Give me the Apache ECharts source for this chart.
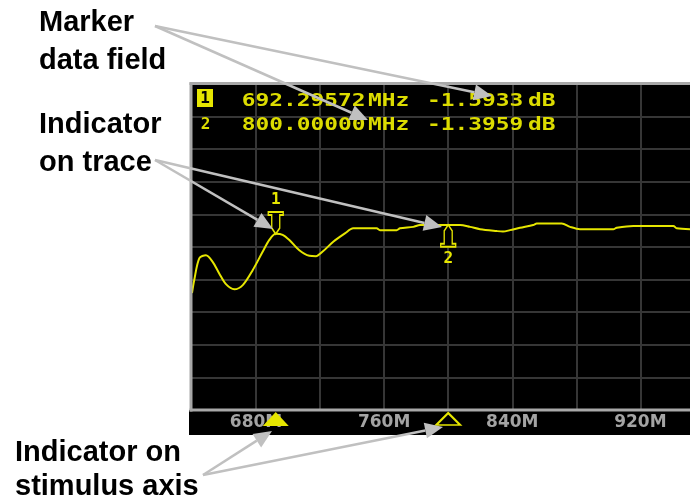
<!DOCTYPE html>
<html>
<head>
<meta charset="utf-8">
<script src="https://cdn.jsdelivr.net/npm/echarts@6/dist/echarts.min.js"></script>
<style>
  html, body { margin: 0; padding: 0; background: #fff; }
  #main { width: 690px; height: 502px; }
</style>
</head>
<body>
<div id="main"></div>
<script>
// trace: stimulus in MHz, response in dB
const freqMHz = [640.0, 641.4, 644.6, 648.7, 652.9, 657.0, 661.2, 666.4, 671.7, 677.9,
  684.2, 688.3, 692.3, 696.6, 700.8, 707.0, 713.3, 717.4, 721.6, 728.2,
  735.5, 740.7, 755.3, 757.4, 767.8, 769.9, 778.2, 782.4, 800.0, 807.4,
  813.6, 819.9, 830.3, 834.2, 838.6, 844.8, 853.1, 855.3, 870.9, 876.1,
  882.3, 903.1, 905.2, 915.6, 940.6, 942.7, 951.0];
const levelDb = [-2.86, -2.58, -2.11, -2.05, -2.19, -2.44, -2.67, -2.78, -2.69, -2.37,
  -1.97, -1.72, -1.59, -1.61, -1.72, -1.94, -2.06, -2.07, -1.97, -1.76,
  -1.58, -1.47, -1.47, -1.51, -1.51, -1.47, -1.44, -1.40, -1.40, -1.40,
  -1.44, -1.49, -1.53, -1.54, -1.51, -1.46, -1.40, -1.37, -1.37, -1.44,
  -1.49, -1.49, -1.46, -1.42, -1.42, -1.47, -1.49];

// markers
const markerIds = ['1', '2'];
const markerFreqMHz = [692.29572, 800.0];
const markerLevelDb = [-1.5933, -1.3959];

// stimulus axis
const freqMin = 640;
const freqMax = 951.0;
const freqStep = 40;
const tickLabels = [680, 760, 840, 920];

// response axis (hidden, 0.7 dB/div)
const dbMin = -5.372;
const dbMax = 1.628;

const YEL = '#e6e600';
const GRIDC = '#363636';
const FRAME = '#a8a8a8';

let chart = echarts.init(document.getElementById('main'));

// pin shapes for the trace markers
const pinDown = 'path://M0 0 H15 V3 H11.5 V16 L7.5 22 L3.5 16 V3 H0 Z';
const pinUp = 'path://M7.5 0 L11.5 6 V19 H15 V22 H0 V19 H3.5 V6 Z';

let tracePts = freqMHz.map((f, i) => [f, levelDb[i]]);

let markPts = [];
markerFreqMHz.forEach((f, i) => {
  let up = i > 0;
  markPts.push({
    coord: [f, markerLevelDb[i]],
    symbol: up ? pinUp : pinDown,
    symbolSize: [15, 22],
    symbolOffset: [0, up ? 11 : -11],
    itemStyle: { color: '#000', borderColor: YEL, borderWidth: 1.6 },
    label: {
      show: true,
      formatter: markerIds[i],
      position: up ? 'bottom' : 'top',
      distance: 3,
      color: YEL,
      fontFamily: 'DejaVu Sans Mono',
      fontWeight: 'bold',
      fontSize: 16
    }
  });
  // indicator on stimulus axis
  markPts.push({
    coord: [f, dbMin],
    symbol: 'triangle',
    symbolSize: i === 0 ? [26, 14] : [24, 12],
    symbolOffset: [0, 9],
    itemStyle: i === 0 ? { color: YEL } : { color: '#000', borderColor: YEL, borderWidth: 2 },
    label: { show: false }
  });
});

// marker data field text
let readout = [];
markerFreqMHz.forEach((f, i) => {
  let y = 101.7 + i * 23.5;
  let ts = { fontFamily: 'DejaVu Sans Mono', fontWeight: 'bold', fontSize: 18, fill: '#dcdc00', verticalAlign: 'middle', align: 'left' };
  if (i === 0) {
    readout.push({ type: 'rect', z: 5, shape: { x: 197, y: 89, width: 16, height: 18 }, style: { fill: YEL } });
    readout.push({ type: 'text', z: 6, x: 205, y: 98.5, style: Object.assign({}, ts, { text: markerIds[i], fill: '#000', fontSize: 16, align: 'center' }) });
  } else {
    readout.push({ type: 'text', z: 6, x: 205.5, y: y, style: Object.assign({}, ts, { text: markerIds[i], fontSize: 16, align: 'center' }) });
  }
  let parts = [
    [241.7, f.toFixed(5)],
    [368, 'MHz'],
    [427, markerLevelDb[i].toFixed(4)],
    [528, 'dB']
  ];
  parts.forEach(p => {
    readout.push({ type: 'text', z: 6, x: p[0], y: y, scaleX: 1.27, style: Object.assign({}, ts, { text: p[1] }) });
  });
});

// display frame: left, top and bottom edges only (right edge is off screen)
let frame = [
  { type: 'line', z: 5, shape: { x1: 191, y1: 82.5, x2: 191, y2: 411.5 }, style: { stroke: FRAME, lineWidth: 3 } },
  { type: 'line', z: 5, shape: { x1: 189.5, y1: 83.5, x2: 690, y2: 83.5 }, style: { stroke: FRAME, lineWidth: 3 } },
  { type: 'line', z: 5, shape: { x1: 189.5, y1: 410, x2: 690, y2: 410 }, style: { stroke: FRAME, lineWidth: 3 } }
];

// callout texts and arrows
const notes = [
  ['Marker', 39, 23.3], ['data field', 39, 60.7],
  ['Indicator', 39, 125], ['on trace', 39, 163.3],
  ['Indicator on', 15, 452.7], ['stimulus axis', 15, 486.7]
];
let callouts = notes.map(n => ({
  type: 'text', z: 10, x: n[1], y: n[2],
  style: { text: n[0], fontFamily: 'Liberation Sans', fontWeight: 'bold', fontSize: 29, fill: '#000', verticalAlign: 'middle' }
}));

function arrow(x1, y1, x2, y2) {
  let dx = x2 - x1, dy = y2 - y1;
  let len = Math.sqrt(dx * dx + dy * dy);
  let ux = dx / len, uy = dy / len;
  let hl = 18, hw = 8;
  let bx = x2 - ux * hl, by = y2 - uy * hl;
  return [
    { type: 'line', z: 10, shape: { x1: x1, y1: y1, x2: bx, y2: by }, style: { stroke: '#c0c0c0', lineWidth: 2.5 } },
    { type: 'polygon', z: 10, shape: { points: [[x2, y2], [bx - uy * hw, by + ux * hw], [bx + uy * hw, by - ux * hw]] }, style: { fill: '#c0c0c0' } }
  ];
}
let arrows = [].concat(
  arrow(155, 26, 492, 96),
  arrow(155, 26, 368, 120),
  arrow(155, 160, 273, 229),
  arrow(155, 160, 442, 227),
  arrow(203, 475, 272, 431),
  arrow(203, 475, 443, 427)
);

let option = {
  animation: false,
  backgroundColor: '#fff',
  grid: {
    left: 192, right: 0, top: 84, bottom: 92,
    show: true, backgroundColor: '#000', borderWidth: 0
  },
  xAxis: {
    type: 'value',
    min: freqMin, max: freqMax, interval: freqStep,
    z: 3,
    axisLine: { show: false },
    axisTick: { show: false },
    splitLine: { show: true, showMinLine: false, showMaxLine: false, lineStyle: { color: GRIDC, width: 2 } },
    axisLabel: {
      margin: 13,
      verticalAlign: 'middle',
      color: '#a4a4a4',
      fontFamily: 'DejaVu Sans',
      fontWeight: 'bold',
      fontSize: 17,
      showMinLabel: false,
      showMaxLabel: false,
      formatter: v => tickLabels.some(t => Math.abs(t - v) < 1e-6) ? v + 'M' : ''
    }
  },
  yAxis: [
    { type: 'value', min: dbMin, max: dbMax, show: false },
    {
      type: 'value', min: 0, max: 10, interval: 1,
      axisLine: { show: false }, axisTick: { show: false }, axisLabel: { show: false },
      splitLine: { show: true, showMinLine: false, showMaxLine: false, lineStyle: { color: GRIDC, width: 2 } }
    }
  ],
  graphic: [
    // black strip behind the stimulus labels
    { type: 'rect', z: 0, shape: { x: 189, y: 410, width: 510, height: 25 }, style: { fill: '#000' } }
  ].concat(frame, readout, callouts, arrows),
  series: [
    {
      type: 'line',
      z: 4,
      data: tracePts,
      showSymbol: false,
      smooth: 0.3,
      lineStyle: { color: YEL, width: 2 },
      markPoint: { data: markPts }
    }
  ]
};
chart.setOption(option);
</script>
</body>
</html>
